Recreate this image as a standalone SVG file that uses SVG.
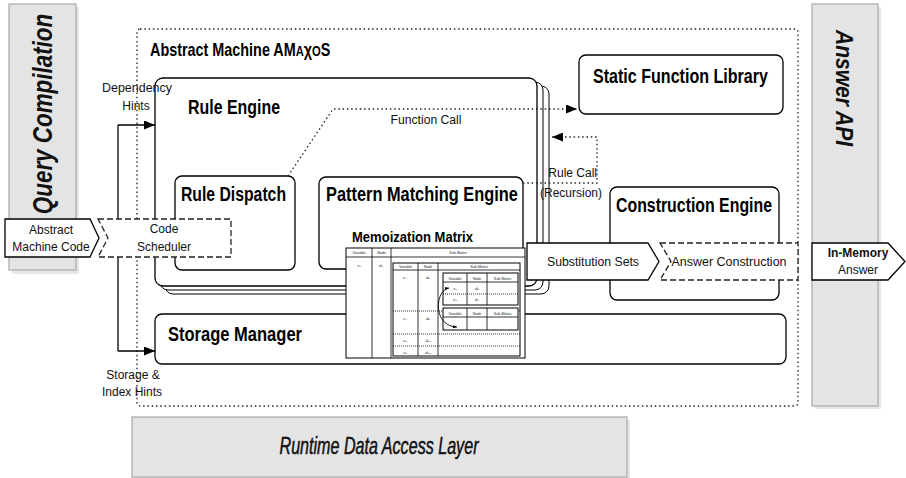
<svg xmlns="http://www.w3.org/2000/svg" width="906" height="478" viewBox="0 0 906 478">
<defs>
<marker id="ah" markerUnits="userSpaceOnUse" markerWidth="11" markerHeight="9" refX="11" refY="4.5" orient="auto"><path d="M0,0 L11,4.5 L0,9 z" fill="#000"/></marker>
<marker id="ahs" markerUnits="userSpaceOnUse" markerWidth="4" markerHeight="3.2" refX="4" refY="1.6" orient="auto"><path d="M0,0 L4,1.6 L0,3.2 z" fill="#000"/></marker>
<marker id="ahs0" markerUnits="userSpaceOnUse" markerWidth="4" markerHeight="3.2" refX="0" refY="1.6" orient="auto"><path d="M4,0 L0,1.6 L4,3.2 z" fill="#000"/></marker>
</defs>
<style>
.panel{fill:#e4e4e4;stroke:#a8a8a8;stroke-width:1.2}
.shadow{fill:#d6d6d6;opacity:0.6}
.ptxt{font-family:"Liberation Sans",Arial,sans-serif;font-style:italic;fill:#111;}
.box{fill:#fff;stroke:#000;stroke-width:1.3}
.stk{fill:#fff;stroke:#000;stroke-width:1}
.ttl{font-family:"Liberation Sans",Arial,sans-serif;font-weight:bold;fill:#000}
.lbl{font-family:"Liberation Sans",Arial,sans-serif;font-size:12px;fill:#111}
.dot{fill:none;stroke:#222;stroke-width:1.3;stroke-dasharray:1.5 2.8}
.dash{fill:#fff;stroke:#222;stroke-width:1.3;stroke-dasharray:6 3}
.solid{fill:none;stroke:#000;stroke-width:1.3}
.tb{fill:#fff;stroke:#000;stroke-width:1}
.tl{stroke:#000;stroke-width:0.8;fill:none}
.tdl{stroke:#000;stroke-width:0.8;stroke-dasharray:1 1;fill:none}
.tt{font-family:"Liberation Sans",Arial,sans-serif;font-size:3.6px;fill:#222;text-anchor:middle}
.tv{font-family:"Liberation Sans",Arial,sans-serif;font-size:4.2px;fill:#222;text-anchor:middle;font-style:italic}
</style>
<rect width="906" height="478" fill="#fff"/>

<!-- side panels -->
<g id="query-compilation">
<rect class="shadow" x="12" y="7" width="67" height="267"/>
<rect class="panel" x="9" y="4" width="67" height="266"/>
<text class="ptxt" font-size="27" font-weight="bold" text-anchor="middle" transform="translate(52,114) rotate(-90) scale(0.83,1)">Query Compilation</text>
</g>
<g id="answer-api">
<rect class="shadow" x="815" y="7" width="66" height="402"/>
<rect class="panel" x="812" y="4" width="66" height="402"/>
<text class="ptxt" font-size="23" font-weight="bold" text-anchor="middle" transform="translate(836,88) rotate(90) scale(0.915,1)">Answer API</text>
</g>
<g id="runtime-data-access-layer">
<rect class="shadow" x="135" y="420" width="495" height="58"/>
<rect class="panel" x="132" y="417" width="495" height="60"/>
<text class="ptxt" font-size="23" text-anchor="middle" textLength="199" lengthAdjust="spacingAndGlyphs" x="379" y="454" stroke="#111" stroke-width="0.5">Runtime Data Access Layer</text>
</g>

<!-- abstract machine container -->
<g id="abstract-machine">
<rect class="dot" x="137" y="29" width="661" height="377" rx="3"/>
<text class="ttl" font-size="18" transform="translate(150,56) scale(0.8,1)">Abstract Machine AM<tspan font-size="14">A</tspan>χ<tspan font-size="14">O</tspan>S</text>
</g>

<g id="rule-engine">
<rect class="stk" x="165" y="86" width="384" height="208" rx="8"/>
<rect class="stk" x="160" y="82" width="383" height="208" rx="8"/>
<rect class="box" x="155" y="78" width="382" height="208" rx="8"/>
<text class="ttl" font-size="20" x="188" y="114" textLength="92" lengthAdjust="spacingAndGlyphs">Rule Engine</text>
</g>

<g id="static-function-library">
<rect class="box" x="579" y="55" width="204" height="59" rx="7"/>
<text class="ttl" font-size="20" x="593" y="83" textLength="175" lengthAdjust="spacingAndGlyphs">Static Function Library</text>
</g>

<g id="rule-dispatch">
<rect class="box" x="175" y="176" width="120" height="94" rx="7"/>
<text class="ttl" font-size="20" x="181" y="201" textLength="105" lengthAdjust="spacingAndGlyphs">Rule Dispatch</text>
</g>

<g id="pattern-matching-engine">
<rect class="box" x="319" y="177" width="204" height="92" rx="7"/>
<text class="ttl" font-size="20" transform="translate(326,201) scale(0.819,1)">Pattern Matching Engine</text>
</g>

<g id="construction-engine">
<rect class="box" x="610" y="187" width="169" height="113" rx="7"/>
<text class="ttl" font-size="20" x="616" y="212" textLength="156" lengthAdjust="spacingAndGlyphs">Construction Engine</text>
</g>

<g id="storage-manager">
<rect class="box" x="155" y="314" width="631" height="50" rx="7"/>
<text class="ttl" font-size="20" x="168" y="341" textLength="134" lengthAdjust="spacingAndGlyphs">Storage Manager</text>
</g>

<!-- connectors -->
<g id="connectors">
<line class="solid" x1="118" y1="125" x2="118" y2="351"/>
<line class="solid" x1="118" y1="125" x2="155" y2="125" marker-end="url(#ah)"/>
<line class="solid" x1="118" y1="351" x2="155" y2="351" marker-end="url(#ah)"/>
<path class="dot" d="M288,176 L333,109 H577" marker-end="url(#ah)"/>
<path class="dot" d="M523,183 H597 V137 H552" marker-end="url(#ah)"/>
<text class="lbl" x="137" y="92" text-anchor="middle" textLength="70" lengthAdjust="spacingAndGlyphs">Dependency</text>
<text class="lbl" x="136" y="110" text-anchor="middle">Hints</text>
<text class="lbl" x="133" y="379" text-anchor="middle">Storage &amp;</text>
<text class="lbl" x="132" y="396" text-anchor="middle">Index Hints</text>
<text class="lbl" x="426" y="124" text-anchor="middle" textLength="71" lengthAdjust="spacingAndGlyphs">Function Call</text>
<text class="lbl" x="597" y="177" text-anchor="end" font-size="11.5">Rule Call</text>
<text class="lbl" x="602" y="196.5" text-anchor="end" font-size="11.5">(Recursion)</text>
</g>

<g id="code-scheduler">
<path class="dash" d="M98,219 H231 V257 H98 L108,238 Z"/>
<text class="lbl" x="164" y="233" text-anchor="middle">Code</text>
<text class="lbl" x="164" y="251" text-anchor="middle">Scheduler</text>
</g>

<g id="abstract-machine-code">
<path class="box" d="M5,219 H90 L99,238 L90,257 H5 Z"/>
<text class="lbl" x="51" y="234" text-anchor="middle">Abstract</text>
<text class="lbl" x="51" y="251" text-anchor="middle">Machine Code</text>
</g>

<g id="memoization-matrix">
<text class="ttl" font-size="15" x="352" y="242" textLength="121" lengthAdjust="spacingAndGlyphs">Memoization Matrix</text>
<rect class="tb" x="346" y="248" width="179" height="110" stroke-width="1.3"/>
<line class="tl" x1="346" y1="257" x2="525" y2="257"/>
<line class="tl" x1="372" y1="248" x2="372" y2="358"/>
<line class="tl" x1="391" y1="248" x2="391" y2="358"/>
<text class="tt" x="359" y="254">Variable</text>
<text class="tt" x="381.5" y="254">Node</text>
<text class="tt" x="458" y="254">Sub-Matrix</text>
<text class="tv" x="359" y="267">v₁</text>
<text class="tv" x="381" y="267">d₂</text>

<rect class="tb" x="393" y="263" width="127" height="93" stroke-width="1.2"/>
<line class="tl" x1="393" y1="270" x2="520" y2="270"/>
<line class="tl" x1="418" y1="263" x2="418" y2="356"/>
<line class="tl" x1="438" y1="263" x2="438" y2="356"/>
<text class="tt" x="405.5" y="268">Variable</text>
<text class="tt" x="428" y="268">Node</text>
<text class="tt" x="479" y="268">Sub-Matrix</text>
<line class="tdl" x1="393" y1="311" x2="520" y2="311"/>
<line class="tdl" x1="393" y1="334" x2="520" y2="334"/>
<line class="tdl" x1="393" y1="346" x2="520" y2="346"/>
<text class="tv" x="405" y="279">v₄</text>
<text class="tv" x="428" y="279">d₅</text>
<text class="tv" x="405" y="320">v₄</text>
<text class="tv" x="428" y="320">d₅</text>
<text class="tv" x="405" y="342">v₃</text>
<text class="tv" x="428" y="342">d₁₂</text>
<text class="tv" x="405" y="354">v₂</text>
<text class="tv" x="428" y="354">d₁₃</text>

<rect class="tb" x="443" y="273" width="75" height="32" stroke-width="1.5"/>
<line class="tl" x1="443" y1="282" x2="518" y2="282"/>
<line class="tl" x1="467" y1="273" x2="467" y2="305"/>
<line class="tl" x1="487" y1="273" x2="487" y2="305"/>
<text class="tt" x="455" y="279.5">Variable</text>
<text class="tt" x="477" y="279.5">Node</text>
<text class="tt" x="502.5" y="279.5">Sub-Matrix</text>
<line class="tdl" x1="443" y1="294" x2="518" y2="294"/>
<text class="tv" x="455" y="290">v₁</text>
<text class="tv" x="477" y="290">d₆</text>
<text class="tv" x="455" y="301">v₃</text>
<text class="tv" x="477" y="301">d₇</text>

<rect class="tb" x="443" y="308" width="75" height="22" stroke-width="1.5"/>
<line class="tl" x1="443" y1="317" x2="518" y2="317"/>
<line class="tl" x1="467" y1="308" x2="467" y2="330"/>
<line class="tl" x1="487" y1="308" x2="487" y2="330"/>
<text class="tt" x="455" y="314.5">Variable</text>
<text class="tt" x="477" y="314.5">Node</text>
<text class="tt" x="502.5" y="314.5">Sub-Matrix</text>
<path d="M449,288 C435,290 432,326 457,327" fill="none" stroke="#000" stroke-width="0.9" marker-start="url(#ahs0)" marker-end="url(#ahs)"/>
</g>

<g id="substitution-sets">
<path class="box" d="M527,243 H648 L659,261.5 L648,280 H527 Z"/>
<text class="lbl" x="593" y="266" text-anchor="middle" textLength="92" lengthAdjust="spacingAndGlyphs">Substitution Sets</text>
</g>

<g id="answer-construction">
<path class="dash" d="M660,243 H798 V280 H660 L671,261.5 Z"/>
<text class="lbl" x="729" y="266" text-anchor="middle" textLength="115" lengthAdjust="spacingAndGlyphs">Answer Construction</text>
</g>

<g id="in-memory-answer">
<path class="box" d="M812,243 H888 L905,261.5 L888,280 H812 Z"/>
<text class="lbl" x="858" y="257" text-anchor="middle" font-weight="bold">In-Memory</text>
<text class="lbl" x="858" y="274" text-anchor="middle">Answer</text>
</g>
</svg>
